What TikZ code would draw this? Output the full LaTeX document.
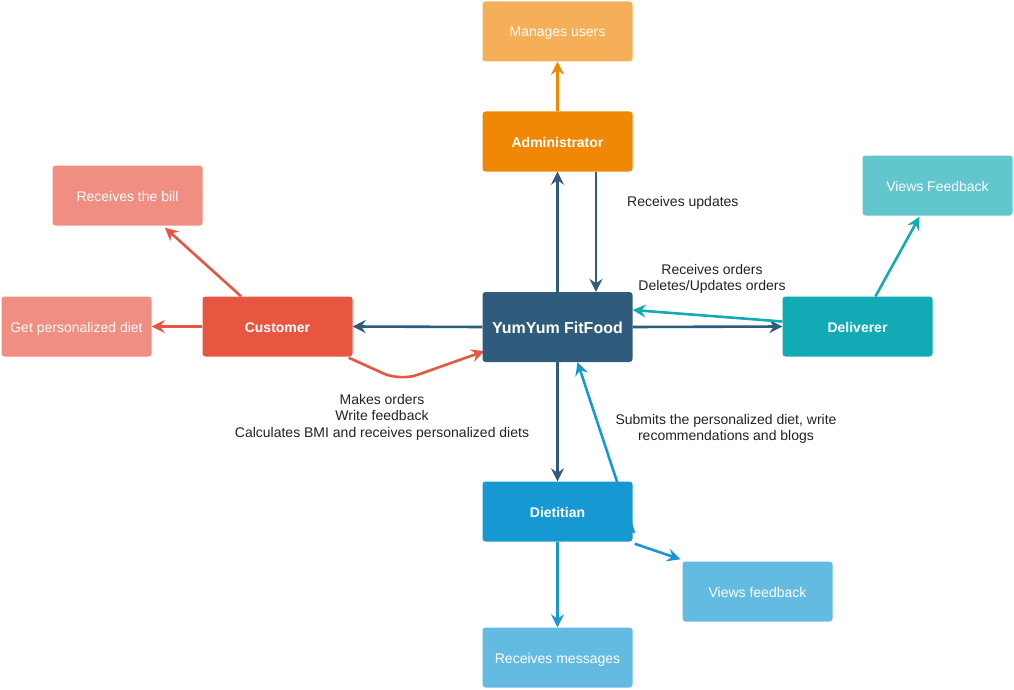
\documentclass[tikz,border=0pt]{standalone}
\usepackage{fontspec}
\setmainfont{Liberation Sans}
\usetikzlibrary{arrows.meta,calc,backgrounds}

\definecolor{adminC}{HTML}{F08705}
\definecolor{adminL}{HTML}{F5AF58}
\definecolor{custC}{HTML}{E85642}
\definecolor{custL}{HTML}{F08E81}
\definecolor{coreC}{HTML}{2F5B7C}
\definecolor{delivC}{HTML}{12AAB5}
\definecolor{delivL}{HTML}{61C6CE}
\definecolor{dietC}{HTML}{1699D3}
\definecolor{dietL}{HTML}{64BBE2}
\definecolor{labelC}{HTML}{222222}

\tikzset{
  box/.style={rectangle, rounded corners=3pt, minimum width=150pt, minimum height=60pt,
    inner sep=0pt, text height=11pt, text depth=0pt, text=white,
    font=\fontsize{14pt}{16.5pt}\selectfont},
  rolebox/.style={box, font=\fontsize{14pt}{16.5pt}\selectfont\bfseries},
  note/.style={text=labelC, align=center, inner sep=0pt, font=\fontsize{14pt}{16.5pt}\selectfont},
  link/.style={line width=2.6pt, -{Stealth[length=13pt,width=13pt,inset=4.5pt]}},
}

\begin{document}
\begin{tikzpicture}[x=1pt,y=-1pt]
\useasboundingbox (0,0) rectangle (1014,690);

% central system
\node[rolebox, fill=coreC, minimum height=70pt, text height=12.5pt,
  font=\fontsize{16pt}{19pt}\selectfont\bfseries] (yum) at (557.5,327) {YumYum FitFood};

% administrator branch
\node[rolebox, fill=adminC] (admin) at (557.5,141.5) {Administrator};
\node[box, fill=adminL] (mng) at (557.5,31.5) {Manages users};

% customer branch
\node[rolebox, fill=custC] (cust) at (277.5,326.5) {Customer};
\node[box, fill=custL] (bill) at (127.5,195.5) {Receives the bill};
\node[box, fill=custL] (getdiet) at (76.5,326.5) {Get personalized diet};

% deliverer branch
\node[rolebox, fill=delivC] (deliv) at (857.5,326.5) {Deliverer};
\node[box, fill=delivL] (vfbD) at (937.5,185.5) {Views Feedback};

% dietitian branch
\node[rolebox, fill=dietC] (diet) at (557.5,511.5) {Dietitian};
\node[box, fill=dietL] (vfbT) at (757.5,591.5) {Views feedback};
\node[box, fill=dietL] (msg) at (557.5,657.5) {Receives messages};

% edge labels
\node[note, anchor=west] (lblUpd) at (627,203) {Receives updates};
\node[note] (lblOrd) at (712,279) {Receives orders\\Deletes/Updates orders};
\node[note] (lblCust) at (382,417) {Makes orders\\Write feedback\\Calculates BMI and receives personalized diets};
\node[note] (lblDiet) at (726,429) {Submits the personalized diet, write\\recommendations and blogs};

\coordinate (custBend) at (400,381);
\coordinate (dietOut) at (634,533);

\begin{scope}[on background layer]
  % administrator
  \draw[link, adminC] (admin.north) -- (mng.south);
  \draw[link, coreC] (yum.north) -- (admin.south);
  \draw[link, coreC] ([xshift=38.5pt]admin.south) -- ([xshift=38.5pt]yum.north);
  % customer
  \draw[link, coreC] (yum.west) -- (cust.east);
  \draw[link, custC] (cust.west) -- (getdiet.east);
  \draw[link, custC] ([xshift=-36.5pt]cust.north) -- ([xshift=37.5pt,yshift=-2pt]bill.south);
  \draw[link, custC, rounded corners=18pt] ([xshift=-4pt,yshift=-1pt]cust.south east) -- (custBend) -- ([xshift=2pt,yshift=11pt]yum.south west);
  % deliverer
  \draw[link, coreC] (yum.east) -- (deliv.west);
  \draw[link, delivC] ([yshift=5pt]deliv.west) -- ([yshift=17pt]yum.east);
  \draw[link, delivC] ([xshift=18pt]deliv.north) -- ([xshift=-18pt,yshift=-1pt]vfbD.south);
  % dietitian
  \draw[link, coreC] (yum.south) -- (diet.north);
  \draw[link, dietC] (dietOut) -- ([xshift=20pt]yum.south);
  \draw[link, dietC] ([xshift=2pt,yshift=-2pt]diet.south east) -- ([xshift=-2pt,yshift=2pt]vfbT.north west);
  \draw[link, dietC] (diet.south) -- (msg.north);
\end{scope}
\end{tikzpicture}
\end{document}
